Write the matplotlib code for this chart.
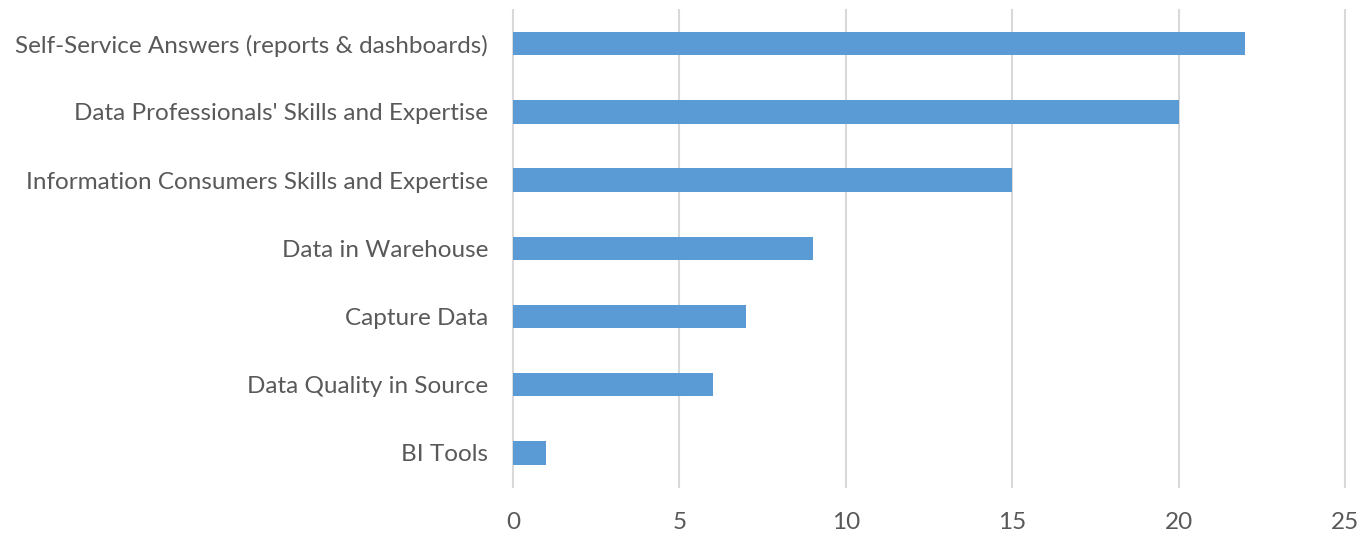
import matplotlib.pyplot as plt

categories = [
    "Self-Service Answers (reports & dashboards)",
    "Data Professionals' Skills and Expertise",
    "Information Consumers Skills and Expertise",
    "Data in Warehouse",
    "Capture Data",
    "Data Quality in Source",
    "BI Tools",
]
values = [22, 20, 15, 9, 7, 6, 1]
x_ticks = [0, 5, 10, 15, 20, 25]

plt.rcParams["font.family"] = ["Lato", "DejaVu Sans"]

fig = plt.figure(figsize=(13.63, 5.33), dpi=100)
ax = fig.add_axes([0.3764, 0.0863, 0.6104, 0.8957])

pos = list(range(len(categories)))
ax.barh(pos, values, height=0.345, color="#5B9BD5", zorder=3)
ax.set_yticks(pos)
ax.set_yticklabels(categories)
ax.set_ylim(len(categories) - 0.5, -0.5)

ax.set_xlim(0, 25)
ax.set_xticks(x_ticks)
ax.grid(axis="x", color="#D9D9D9", linewidth=1.5, zorder=0)
for gl in ax.get_xgridlines():
    gl.set_clip_on(False)
for s in ax.spines.values():
    s.set_visible(False)

ax.tick_params(axis="y", length=0, pad=18, labelsize=17.5, labelcolor="#595959")
ax.tick_params(axis="x", length=0, pad=18, labelsize=17.5, labelcolor="#595959")

fig.savefig("out.png", dpi=100)
